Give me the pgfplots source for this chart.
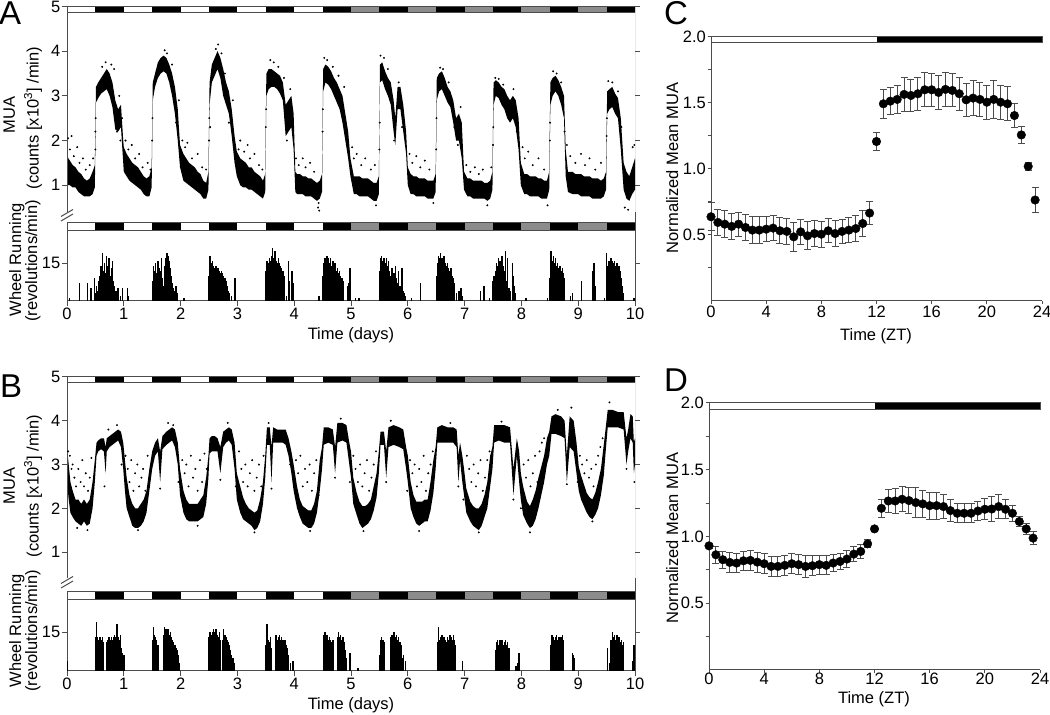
\documentclass[border=0pt]{standalone}
\usepackage{fontspec}
\setmainfont{Liberation Sans}
\usepackage{pgfplots}
\pgfplotsset{compat=1.18}
\usepackage{pgfplotstable}

\newcommand\fs{\fontsize{16.5}{19}\selectfont}
\newcommand\fl{\fontsize{33}{36}\selectfont}
\definecolor{ax}{gray}{0.3}
\definecolor{ldgray}{gray}{0.55}

% ---------------- data ----------------
\pgfplotstableread{
t lo hi
0.00 1.00 1.65
0.05 1.00 1.55
0.10 0.95 1.45
0.15 0.95 1.40
0.20 0.85 1.30
0.25 0.80 1.25
0.30 0.75 1.15
0.35 0.75 1.10
0.40 0.75 1.15
0.45 0.80 1.30
0.49 0.95 1.45
0.51 2.85 3.20
0.55 2.95 3.30
0.60 3.05 3.40
0.65 3.10 3.50
0.70 3.15 3.60
0.75 3.00 3.50
0.80 2.75 3.30
0.85 2.25 2.90
0.90 2.20 2.70
0.95 2.30 2.80
0.99 1.50 2.00
1.00 1.30 1.85
1.05 1.20 1.70
1.10 1.10 1.60
1.15 1.05 1.50
1.20 1.00 1.45
1.25 0.95 1.40
1.30 0.90 1.30
1.35 0.80 1.20
1.40 0.75 1.15
1.45 0.75 1.20
1.49 0.95 1.40
1.51 2.90 3.30
1.55 3.20 3.50
1.60 3.40 3.75
1.65 3.50 3.85
1.70 3.55 3.90
1.75 3.50 3.85
1.80 3.30 3.70
1.85 3.00 3.50
1.90 2.60 3.20
1.95 2.00 2.70
1.99 1.40 1.90
2.05 1.10 1.70
2.10 1.05 1.60
2.15 1.00 1.50
2.20 0.95 1.45
2.25 0.90 1.40
2.30 0.85 1.30
2.35 0.80 1.25
2.40 0.70 1.10
2.45 0.70 1.05
2.49 0.90 1.30
2.51 2.80 3.30
2.55 3.30 3.70
2.60 3.45 3.85
2.65 3.60 4.00
2.70 3.40 3.85
2.75 3.00 3.60
2.80 2.80 3.30
2.85 2.60 3.10
2.90 2.10 2.70
2.95 1.50 2.10
2.99 1.20 1.75
3.05 1.00 1.60
3.10 0.95 1.55
3.15 0.95 1.50
3.20 0.90 1.40
3.25 0.90 1.40
3.30 0.85 1.30
3.35 0.80 1.25
3.40 0.75 1.20
3.45 0.70 1.10
3.49 0.85 1.25
3.51 3.00 3.50
3.55 3.15 3.60
3.60 3.20 3.60
3.65 3.20 3.55
3.70 3.15 3.50
3.75 3.05 3.45
3.80 2.90 3.30
3.85 2.10 2.80
3.90 2.20 2.90
3.95 2.30 3.00
3.99 1.80 2.60
4.02 0.85 1.30
4.05 0.80 1.25
4.10 0.80 1.25
4.15 0.80 1.20
4.20 0.75 1.20
4.25 0.75 1.15
4.30 0.75 1.15
4.35 0.70 1.10
4.40 0.65 1.05
4.45 0.70 1.10
4.49 0.85 1.25
4.51 3.10 3.60
4.55 3.30 3.70
4.60 3.25 3.65
4.65 3.15 3.55
4.70 3.00 3.40
4.75 2.85 3.30
4.80 2.70 3.15
4.85 2.40 3.00
4.90 2.00 2.60
4.95 1.60 2.20
4.99 1.20 1.60
5.05 0.80 1.20
5.10 0.80 1.20
5.15 0.75 1.20
5.20 0.75 1.15
5.25 0.75 1.15
5.30 0.75 1.15
5.35 0.70 1.10
5.40 0.65 1.05
5.45 0.65 1.05
5.49 0.80 1.20
5.51 3.30 3.70
5.55 3.35 3.75
5.60 3.15 3.55
5.65 3.00 3.40
5.70 2.80 3.30
5.75 2.20 2.90
5.78 1.90 2.50
5.82 2.70 3.20
5.87 2.70 3.20
5.92 2.20 2.80
5.97 1.70 2.20
6.00 1.00 1.40
6.05 0.80 1.25
6.10 0.80 1.20
6.15 0.75 1.20
6.20 0.75 1.15
6.25 0.75 1.15
6.30 0.75 1.15
6.35 0.70 1.10
6.40 0.70 1.10
6.45 0.70 1.10
6.49 0.85 1.25
6.51 2.90 3.40
6.55 3.10 3.50
6.60 3.15 3.55
6.65 3.00 3.40
6.70 2.85 3.20
6.75 2.75 3.10
6.80 2.40 2.90
6.85 2.00 2.50
6.90 2.00 2.60
6.95 1.60 2.40
6.99 0.90 1.30
7.05 0.75 1.15
7.10 0.75 1.15
7.15 0.70 1.10
7.20 0.70 1.10
7.25 0.70 1.10
7.30 0.70 1.10
7.35 0.70 1.05
7.40 0.65 1.05
7.45 0.70 1.10
7.49 0.90 1.30
7.51 2.80 3.30
7.55 3.00 3.35
7.60 2.95 3.30
7.65 2.80 3.20
7.70 2.70 3.15
7.75 2.50 3.00
7.80 2.40 2.90
7.85 2.50 3.00
7.90 2.30 2.90
7.95 1.80 2.50
7.99 1.00 1.50
8.05 0.80 1.25
8.10 0.80 1.25
8.15 0.75 1.20
8.20 0.75 1.20
8.25 0.75 1.20
8.30 0.75 1.15
8.35 0.70 1.15
8.40 0.70 1.10
8.45 0.70 1.10
8.49 0.90 1.30
8.51 2.80 3.30
8.55 3.00 3.40
8.60 3.10 3.45
8.65 3.00 3.35
8.70 2.80 3.20
8.75 2.50 3.00
8.78 1.20 1.80
8.82 0.85 1.30
8.90 0.80 1.30
8.95 0.80 1.25
9.00 0.80 1.25
9.05 0.75 1.25
9.10 0.75 1.20
9.15 0.75 1.20
9.20 0.75 1.20
9.25 0.70 1.15
9.30 0.70 1.15
9.35 0.70 1.15
9.40 0.70 1.10
9.45 0.75 1.15
9.49 0.90 1.30
9.51 2.60 3.10
9.55 2.70 3.15
9.60 2.75 3.20
9.65 2.60 3.05
9.70 2.50 2.95
9.75 1.80 2.50
9.80 0.90 1.50
9.85 0.70 1.30
9.90 0.65 1.20
9.95 0.80 1.40
10.00 0.90 1.60
}\Amua

\pgfplotstableread{
t lo hi
0.00 2.60 3.40
0.03 2.20 3.00
0.06 1.90 2.60
0.10 1.80 2.40
0.15 1.70 2.20
0.20 1.65 2.20
0.25 1.60 2.10
0.30 1.70 2.20
0.35 1.60 2.10
0.40 1.65 2.20
0.45 2.00 2.60
0.49 2.60 3.10
0.52 3.20 3.50
0.55 3.30 3.55
0.60 3.35 3.60
0.65 3.30 3.60
0.68 2.80 3.40
0.70 3.30 3.60
0.75 3.40 3.65
0.80 3.45 3.70
0.85 3.50 3.75
0.90 3.55 3.80
0.95 3.40 3.75
0.99 2.90 3.50
1.02 2.40 3.10
1.05 2.00 2.70
1.10 1.80 2.30
1.15 1.60 2.10
1.20 1.55 2.00
1.25 1.55 2.00
1.30 1.60 2.10
1.35 1.70 2.20
1.40 1.90 2.40
1.45 2.40 2.90
1.50 2.90 3.30
1.55 3.20 3.50
1.60 3.30 3.60
1.64 2.60 3.30
1.68 3.35 3.65
1.75 3.45 3.75
1.80 3.50 3.80
1.85 3.55 3.85
1.90 3.40 3.80
1.95 3.00 3.50
1.99 2.30 2.90
2.05 1.90 2.40
2.10 1.75 2.20
2.15 1.70 2.10
2.20 1.70 2.10
2.25 1.70 2.10
2.30 1.70 2.10
2.35 1.75 2.20
2.40 1.80 2.30
2.45 2.10 2.70
2.49 2.70 3.20
2.51 3.25 3.60
2.55 3.30 3.65
2.60 3.30 3.65
2.65 3.30 3.60
2.70 2.80 3.40
2.75 3.40 3.75
2.80 3.50 3.80
2.85 3.55 3.85
2.90 3.45 3.80
2.95 2.90 3.50
2.99 2.20 2.80
3.05 1.90 2.50
3.10 1.75 2.25
3.15 1.70 2.10
3.20 1.65 2.00
3.25 1.60 1.95
3.30 1.50 1.90
3.35 1.55 1.95
3.40 1.70 2.20
3.45 2.10 2.60
3.49 2.70 3.20
3.52 3.45 3.85
3.57 3.45 3.85
3.60 2.60 3.40
3.63 3.50 3.85
3.70 3.50 3.80
3.75 3.50 3.80
3.80 3.50 3.80
3.85 3.45 3.80
3.90 3.20 3.60
3.95 2.80 3.30
3.99 2.40 3.00
4.05 2.00 2.50
4.10 1.80 2.20
4.15 1.65 2.05
4.20 1.60 2.00
4.25 1.55 1.95
4.30 1.55 1.95
4.35 1.65 2.10
4.40 1.90 2.40
4.45 2.40 3.10
4.49 2.90 3.40
4.52 3.45 3.85
4.60 3.50 3.85
4.68 3.45 3.80
4.72 2.80 3.40
4.76 3.50 3.95
4.85 3.55 3.95
4.92 3.50 3.90
4.97 3.00 3.50
5.00 2.70 3.30
5.04 2.10 2.70
5.10 1.85 2.35
5.15 1.65 2.15
5.20 1.55 2.05
5.25 1.60 2.05
5.30 1.65 2.10
5.35 1.75 2.20
5.40 1.95 2.50
5.45 2.25 2.80
5.49 2.80 3.30
5.52 3.45 3.75
5.58 3.45 3.75
5.62 2.70 3.30
5.66 3.40 3.85
5.75 3.45 3.90
5.85 3.40 3.85
5.92 3.35 3.80
5.97 2.90 3.40
6.00 2.60 3.20
6.05 2.00 2.60
6.10 1.80 2.30
6.15 1.65 2.15
6.20 1.60 2.15
6.25 1.65 2.15
6.30 1.70 2.20
6.35 1.70 2.20
6.40 1.95 2.60
6.45 2.35 3.10
6.49 2.90 3.40
6.52 3.50 3.85
6.60 3.50 3.90
6.70 3.50 3.85
6.80 3.50 3.85
6.86 3.40 3.80
6.89 2.60 3.20
6.92 3.10 3.50
6.96 2.60 3.20
6.99 2.30 2.90
7.03 1.90 2.45
7.10 1.70 2.15
7.15 1.60 2.05
7.20 1.55 2.00
7.25 1.50 2.00
7.30 1.60 2.10
7.35 1.80 2.30
7.40 2.00 2.60
7.45 2.50 3.20
7.49 2.90 3.40
7.52 3.50 3.90
7.60 3.55 3.90
7.70 3.50 3.90
7.80 3.50 3.85
7.86 2.30 2.90
7.92 3.20 3.60
7.96 2.60 3.30
7.99 2.20 2.80
8.03 1.85 2.50
8.10 1.65 2.15
8.15 1.55 2.05
8.20 1.60 2.20
8.25 1.75 2.40
8.30 2.00 2.70
8.35 2.30 2.95
8.40 2.60 3.20
8.45 3.00 3.60
8.49 3.20 3.75
8.53 3.70 4.10
8.60 3.70 4.15
8.70 3.65 4.10
8.76 3.60 4.00
8.80 2.60 3.20
8.85 3.40 4.10
8.92 3.30 4.00
8.97 2.80 3.50
9.01 2.40 2.95
9.05 2.20 2.75
9.10 2.05 2.55
9.15 1.90 2.35
9.20 1.80 2.25
9.25 1.75 2.20
9.30 1.85 2.35
9.35 2.00 2.60
9.40 2.30 2.90
9.45 2.75 3.45
9.49 3.40 3.90
9.52 3.85 4.25
9.60 3.85 4.25
9.70 3.85 4.20
9.80 3.80 4.20
9.85 3.00 3.60
9.88 3.30 3.80
9.92 3.60 4.15
9.96 3.50 4.10
9.98 2.80 3.50
10.00 3.00 3.60
}\Bmua

\pgfplotstableread{
t v
0.04 1
0.22 7
0.36 7
0.42 5
0.48 9
0.50 3
0.52 6
0.54 4
0.56 8
0.58 10
0.60 14
0.62 19
0.64 12
0.66 15
0.68 11
0.70 18
0.72 14
0.74 17
0.76 10
0.78 13
0.80 16
0.82 8
0.84 6
0.86 4
0.88 3
0.90 5
0.94 2
0.98 5
1.06 5
1.08 2
1.50 8
1.52 14
1.54 12
1.56 15
1.58 11
1.60 16
1.62 13
1.64 12
1.66 17
1.68 9
1.70 6
1.72 14
1.74 17
1.76 19
1.78 18
1.80 16
1.82 13
1.84 10
1.86 7
1.88 5
1.90 4
1.92 6
1.94 3
2.06 1
2.50 10
2.52 18
2.54 15
2.56 16
2.58 14
2.60 13
2.62 14
2.64 12
2.66 13
2.68 12
2.70 11
2.72 12
2.74 11
2.76 10
2.78 9
2.80 8
2.82 6
2.84 4
2.86 3
2.90 2
2.96 9
3.50 12
3.52 16
3.54 15
3.56 17
3.58 16
3.60 18
3.62 21
3.64 17
3.66 20
3.68 16
3.70 15
3.72 17
3.74 15
3.76 14
3.78 13
3.80 12
3.82 10
3.86 2
3.90 16
3.92 8
3.96 12
3.98 7
4.44 2
4.50 10
4.52 15
4.54 17
4.56 16
4.58 18
4.60 17
4.62 15
4.64 17
4.66 14
4.68 16
4.70 13
4.72 15
4.74 12
4.76 13
4.78 11
4.80 12
4.82 10
4.84 9
4.86 8
4.94 6
4.96 7
4.98 13
5.08 1
5.14 1
5.50 12
5.52 17
5.54 18
5.56 16
5.58 17
5.60 15
5.62 17
5.64 14
5.66 16
5.68 12
5.70 10
5.72 13
5.74 8
5.76 11
5.78 14
5.80 9
5.82 7
5.84 12
5.86 6
5.88 5
5.90 13
5.92 4
5.94 3
5.96 2
6.06 1
6.22 7
6.50 10
6.52 15
6.54 18
6.56 17
6.58 19
6.60 17
6.62 16
6.64 18
6.66 15
6.68 14
6.70 15
6.72 13
6.74 12
6.76 13
6.78 10
6.80 9
6.82 7
6.86 3
6.90 4
6.94 5
6.96 2
7.28 4
7.34 6
7.44 1
7.50 8
7.52 10
7.54 12
7.56 15
7.58 14
7.60 17
7.62 16
7.64 15
7.66 18
7.68 14
7.70 12
7.72 20
7.74 8
7.76 17
7.78 5
7.80 4
7.84 15
7.86 10
7.88 6
7.90 3
8.08 1
8.46 1
8.50 9
8.52 20
8.54 16
8.56 18
8.58 15
8.60 17
8.62 14
8.64 15
8.66 13
8.68 14
8.70 12
8.72 13
8.74 11
8.76 9
8.86 2
8.90 3
9.06 8
9.26 12
9.28 15
9.30 6
9.46 1
9.50 19
9.52 14
9.54 16
9.56 15
9.58 17
9.60 16
9.62 15
9.64 16
9.66 14
9.68 15
9.70 13
9.72 14
9.74 12
9.76 9
9.78 6
9.80 3
9.98 1
}\Awheel

\pgfplotstableread{
t v
0.00 4
0.50 13
0.52 19
0.54 13
0.56 12
0.58 13
0.60 12
0.62 13
0.64 11
0.70 11
0.72 12
0.74 13
0.76 12
0.78 13
0.80 12
0.82 13
0.84 14
0.86 13
0.88 18
0.90 13
0.92 12
0.94 14
0.96 9
0.98 7
1.00 6
1.50 12
1.52 17
1.54 14
1.56 13
1.58 12
1.60 10
1.70 14
1.72 17
1.74 16
1.76 15
1.78 16
1.80 14
1.82 15
1.84 13
1.86 12
1.88 11
1.90 10
1.92 9
1.94 8
1.96 6
1.98 3
2.50 13
2.52 15
2.54 14
2.56 15
2.58 16
2.60 15
2.62 16
2.64 14
2.66 13
2.68 15
2.70 12
2.74 12
2.76 16
2.78 14
2.80 13
2.82 12
2.84 11
2.86 10
2.88 8
2.90 6
2.92 5
2.94 3
3.50 10
3.52 18
3.54 12
3.56 11
3.58 13
3.60 9
3.68 14
3.70 12
3.72 13
3.74 14
3.76 12
3.78 13
3.80 12
3.82 11
3.84 12
3.86 10
3.88 9
3.90 6
3.94 3
3.98 4
4.52 14
4.54 15
4.56 13
4.58 14
4.60 12
4.62 13
4.64 12
4.66 11
4.68 12
4.76 13
4.78 15
4.80 13
4.82 14
4.84 12
4.86 13
4.88 11
4.90 8
4.92 5
4.98 7
5.12 1
5.50 6
5.52 12
5.54 13
5.56 12
5.58 11
5.70 13
5.72 14
5.74 12
5.76 15
5.78 13
5.80 14
5.82 12
5.84 13
5.86 11
5.88 10
5.90 5
5.92 6
5.96 4
6.52 11
6.54 17
6.56 12
6.58 13
6.60 14
6.62 12
6.64 13
6.66 12
6.68 11
6.70 13
6.72 12
6.74 14
6.76 13
6.78 12
6.80 14
6.82 12
6.84 10
6.96 4
7.54 8
7.56 11
7.58 12
7.60 10
7.62 12
7.64 11
7.66 12
7.68 10
7.70 11
7.72 12
7.74 10
7.76 11
7.78 9
7.90 2
7.92 2
7.94 3
7.96 7
8.52 10
8.54 14
8.56 13
8.58 12
8.60 13
8.62 14
8.64 12
8.66 13
8.68 12
8.70 13
8.72 14
8.74 12
8.90 7
8.92 6
8.94 5
9.52 9
9.56 3
9.58 12
9.60 15
9.62 13
9.64 14
9.66 12
9.68 14
9.70 12
9.72 13
9.74 11
9.76 12
9.78 10
9.80 11
9.96 4
9.98 10
}\Bwheel

\pgfplotstableread{
t m e
0 0.638 0.105
0.5 0.595 0.100
1 0.582 0.100
1.5 0.565 0.100
2 0.582 0.090
2.5 0.557 0.095
3 0.537 0.100
3.5 0.537 0.100
4 0.544 0.095
4.5 0.552 0.095
5 0.532 0.100
5.5 0.527 0.100
6 0.486 0.110
6.5 0.524 0.095
7 0.494 0.105
7.5 0.511 0.100
8 0.506 0.100
8.5 0.532 0.090
9 0.511 0.100
9.5 0.527 0.090
10 0.537 0.095
10.5 0.549 0.095
11 0.587 0.100
11.5 0.666 0.090
12 1.208 0.070
12.5 1.494 0.110
13 1.514 0.100
13.5 1.527 0.105
14 1.565 0.130
14.5 1.557 0.120
15 1.570 0.125
15.5 1.600 0.130
16 1.600 0.125
16.5 1.580 0.130
17 1.603 0.130
17.5 1.595 0.125
18 1.570 0.125
18.5 1.524 0.125
19 1.537 0.130
19.5 1.527 0.130
20 1.506 0.130
20.5 1.527 0.145
21 1.506 0.130
21.5 1.494 0.130
22 1.405 0.090
22.5 1.258 0.065
23 1.020 0.030
23.5 0.765 0.095
}\Cdata

\pgfplotstableread{
t m e
0 0.930 0.020
0.5 0.863 0.065
1 0.826 0.065
1.5 0.806 0.075
2 0.801 0.070
2.5 0.818 0.070
3 0.821 0.075
3.5 0.808 0.075
4 0.796 0.075
4.5 0.776 0.075
5 0.776 0.075
5.5 0.784 0.075
6 0.796 0.075
6.5 0.789 0.075
7 0.776 0.080
7.5 0.781 0.075
8 0.789 0.070
8.5 0.784 0.070
9 0.801 0.065
9.5 0.813 0.060
10 0.831 0.065
10.5 0.868 0.055
11 0.888 0.050
11.5 0.945 0.030
12 1.057 0.020
12.5 1.211 0.065
13 1.266 0.085
13.5 1.266 0.090
14 1.279 0.095
14.5 1.269 0.100
15 1.254 0.110
15.5 1.244 0.100
16 1.231 0.100
16.5 1.231 0.100
17 1.224 0.090
17.5 1.194 0.080
18 1.174 0.070
18.5 1.174 0.070
19 1.174 0.070
19.5 1.191 0.070
20 1.204 0.080
20.5 1.206 0.090
21 1.224 0.090
21.5 1.204 0.070
22 1.174 0.060
22.5 1.112 0.040
23 1.057 0.040
23.5 0.988 0.050
}\Ddata

% ---------------- helpers ----------------
\newcommand{\ldbar}[2]{%
  \fill[white] (axis cs:0,#1) rectangle (axis cs:10,#2);
  \fill[black] (axis cs:0.5,#1) rectangle (axis cs:1,#2);
  \fill[black] (axis cs:1.5,#1) rectangle (axis cs:2,#2);
  \fill[black] (axis cs:2.5,#1) rectangle (axis cs:3,#2);
  \fill[black] (axis cs:3.5,#1) rectangle (axis cs:4,#2);
  \fill[black] (axis cs:4.5,#1) rectangle (axis cs:5,#2);
  \fill[black] (axis cs:5.5,#1) rectangle (axis cs:6,#2);
  \fill[black] (axis cs:6.5,#1) rectangle (axis cs:7,#2);
  \fill[black] (axis cs:7.5,#1) rectangle (axis cs:8,#2);
  \fill[black] (axis cs:8.5,#1) rectangle (axis cs:9,#2);
  \fill[black] (axis cs:9.5,#1) rectangle (axis cs:10,#2);
  \fill[ldgray] (axis cs:5,#1) rectangle (axis cs:5.5,#2);
  \fill[ldgray] (axis cs:6,#1) rectangle (axis cs:6.5,#2);
  \fill[ldgray] (axis cs:7,#1) rectangle (axis cs:7.5,#2);
  \fill[ldgray] (axis cs:8,#1) rectangle (axis cs:8.5,#2);
  \fill[ldgray] (axis cs:9,#1) rectangle (axis cs:9.5,#2);
  \draw[ax, line width=1pt] (axis cs:0,#1) rectangle (axis cs:10,#2);
}

\pgfplotsset{
  base/.style={scale only axis, anchor=south west,
    axis line style={-, ax, line width=1pt},
    every tick/.style={ax, line width=1pt},
    tick align=outside, major tick length=5pt,
    tick label style={font=\fs, inner sep=1.5pt},
    label style={font=\fs},
    /pgf/number format/assume math mode=true},
  muaax/.style={base, width=568pt, xmin=0, xmax=10, ymin=0.4, ymax=5,
    axis line style={draw=none}, xtick=\empty,
    ytick={1,2,3,4,5}, yticklabels={1,2,3,4,5}, yticklabel pos=left},
  wheelax/.style={base, width=568pt, xmin=0, xmax=10, ymin=0,
    xtick={0,1,...,10}, xticklabels={0,1,2,3,4,5,6,7,8,9,10}, xtick pos=left,
    ytick={15}, yticklabels={15}, yticklabel pos=left},
  meanax/.style={base, width=331pt, xmin=0, xmax=24, ymin=0, ymax=2,
    major tick length=3.5pt,
    axis x line*=bottom, axis y line*=left, clip=false,
    xtick={0,4,...,24}, xticklabels={0,4,8,12,16,20,24},
    ytick={0.25,0.5,0.75,1,1.25,1.5,1.75,2},
    yticklabels={,0.5,,1.0,,1.5,,2.0}},
  dots/.style={only marks, mark=*, mark size=0.75pt, black},
  errpts/.style={only marks, mark=*, mark size=4.3pt, black,
    error bars/.cd, y dir=both, y explicit,
    error bar style={ax, line width=1pt},
    error mark options={rotate=90, ax, line width=1pt, mark size=3.5pt}},
}

\begin{document}
\begin{tikzpicture}

% ================= Panel A =================
\begin{axis}[muaax, at={(67pt,503pt)}, height=205.5pt]
  \addplot[draw=none, stack plots=y, forget plot] table[x=t,y=lo] {\Amua};
  \addplot[draw=none, fill=black, stack plots=y, forget plot] table[x=t, y expr=\thisrow{hi}-\thisrow{lo}] {\Amua} \closedcycle;
  \addplot[dots] coordinates {
   (0.02,2.05) (0.05,1.8) (0.08,2.1) (0.12,1.65) (0.18,1.85) (0.22,1.5) (0.28,1.6) (0.33,1.35) (0.40,1.45) (0.46,1.6)
   (0.50,2.2) (0.50,1.8) (0.505,2.5) (0.62,3.65) (0.68,3.75) (0.72,3.3) (0.78,3.7) (0.83,3.6) (0.88,2.2) (0.92,3.0) (0.94,2.0) (0.97,2.5)
   (1.03,2.0) (1.08,1.8) (1.14,1.9) (1.2,1.6) (1.27,1.7) (1.33,1.4) (1.42,1.5) (1.47,1.35) (1.50,2.0) (1.505,2.5)
   (1.72,4.02) (1.76,3.95) (1.85,3.7) (1.92,2.4) (1.97,2.9)
   (2.03,2.0) (2.08,1.85) (2.12,1.95) (2.2,1.6) (2.3,1.7) (2.38,1.4) (2.45,1.35) (2.50,2.0) (2.505,2.5) (2.52,2.3)
   (2.66,4.15) (2.62,4.05) (2.72,3.95) (2.78,3.5) (2.85,2.4) (2.92,2.9)
   (3.02,1.8) (3.05,2.0) (3.12,1.75) (3.18,1.9) (3.22,1.6) (3.3,1.7) (3.38,1.45) (3.44,1.35) (3.50,2.3) (3.505,2.7)
   (3.58,3.8) (3.64,3.75) (3.72,3.65) (3.82,3.4) (3.87,2.0) (3.93,3.15)
   (4.03,1.6) (4.08,1.45) (4.15,1.6) (4.2,1.4) (4.28,1.5) (4.35,1.3) (4.42,0.5) (4.43,0.6) (4.44,0.43)
   (4.5,2.2) (4.505,2.7) (4.53,3.85) (4.58,3.8) (4.68,3.65) (4.78,3.45) (4.88,3.2) (4.93,2.2)
   (5.02,1.85) (5.05,1.6) (5.1,1.7) (5.18,1.45) (5.25,1.6) (5.35,1.35) (5.44,0.55) (5.42,1.45) (5.5,1.8) (5.505,2.4)
   (5.52,3.9) (5.58,3.85) (5.65,3.6) (5.76,2.0) (5.84,3.3) (5.9,2.3)
   (6.03,1.7) (6.08,1.5) (6.15,1.65) (6.22,1.4) (6.3,1.55) (6.38,1.35) (6.45,0.6) (6.5,1.8) (6.505,2.5)
   (6.57,3.63) (6.62,3.6) (6.72,3.3) (6.82,2.3) (6.88,1.9) (6.93,2.75)
   (7.03,1.45) (7.1,1.3) (7.18,1.4) (7.25,1.25) (7.32,1.35) (7.4,0.55) (7.47,1.4) (7.50,1.9) (7.505,2.3)
   (7.54,3.4) (7.6,3.38) (7.68,3.25) (7.78,2.5) (7.86,3.15) (7.92,2.2)
   (8.02,1.85) (8.06,1.6) (8.12,1.75) (8.2,1.45) (8.3,1.6) (8.4,1.35) (8.46,0.55) (8.5,2.0) (8.505,2.4)
   (8.56,3.55) (8.62,3.5) (8.7,3.3) (8.76,2.2) (8.8,1.9)
   (8.86,1.65) (8.95,1.5) (9.05,1.7) (9.12,1.45) (9.2,1.6) (9.3,1.35) (9.4,1.5) (9.5,2.1) (9.505,2.5)
   (9.53,3.33) (9.6,3.3) (9.7,3.1) (9.76,2.3) (9.82,0.5) (9.88,0.45) (9.96,1.85) (9.99,1.9)
  };
  \ldbar{4.865}{5}
  \draw[ax, line width=1pt] (rel axis cs:0,0) -- (rel axis cs:0,1) -- (rel axis cs:1,1) -- (rel axis cs:1,0);
\end{axis}

\begin{axis}[wheelax, at={(67pt,414pt)}, height=78pt, ymax=31]
  \addplot[ycomb, black, line width=1.4pt] table[x=t,y=v] {\Awheel};
  \ldbar{28.2}{31}
\end{axis}

\draw[ax, line width=1pt] (635pt,503pt) -- (635pt,492pt);
\draw[ax, line width=1pt] (61pt,494pt) -- (73pt,501pt);
\draw[ax, line width=1pt] (61pt,498.5pt) -- (73pt,505.5pt);

\node[font=\fl, anchor=base west, inner sep=0] at (-1pt,690pt) {A};
\node[font=\fs, rotate=90, anchor=base, inner sep=0] at (15pt,600pt) {MUA};
\node[font=\fs, rotate=90, anchor=base, inner sep=0] at (38.5pt,597pt) {(counts [x10\textsuperscript{3}] /min)};
\node[font=\fs, rotate=90, anchor=base, inner sep=0] at (21pt,455pt) {Wheel Running};
\node[font=\fs, rotate=90, anchor=base, inner sep=0] at (37pt,454pt) {(revolutions/min)};
\node[font=\fs, anchor=base, inner sep=0] at (351pt,375pt) {Time (days)};

% ================= Panel B =================
\begin{axis}[muaax, at={(67pt,136.7pt)}, height=201.3pt]
  \addplot[draw=none, stack plots=y, forget plot] table[x=t,y=lo] {\Bmua};
  \addplot[draw=none, fill=black, stack plots=y, forget plot] table[x=t, y expr=\thisrow{hi}-\thisrow{lo}] {\Bmua} \closedcycle;
  \addplot[dots] coordinates {
   (0.02,3.3) (0.05,3.2) (0.08,2.9) (0.1,3.0) (0.13,2.7) (0.16,2.5) (0.2,2.9) (0.24,2.6) (0.27,3.1) (0.3,2.5) (0.33,2.8) (0.37,2.4) (0.4,2.7) (0.43,3.15) (0.18,1.55) (0.36,1.5) (0.66,2.5) (0.73,3.8) (0.88,3.9) (0.96,3.0)
   (1.03,3.2) (1.07,2.9) (1.1,2.6) (1.13,3.1) (1.17,2.4) (1.2,2.8) (1.24,3.0) (1.27,2.5) (1.31,2.7) (1.34,2.9) (1.38,2.4) (1.42,3.2) (1.25,1.5) (1.64,2.45) (1.78,3.95) (1.87,3.9) (1.96,2.6)
   (2.03,3.1) (2.07,2.8) (2.1,3.0) (2.14,2.5) (2.18,3.2) (2.22,2.7) (2.26,2.9) (2.3,2.4) (2.34,3.1) (2.38,2.6) (2.42,3.25) (2.46,2.9) (2.3,1.6) (2.7,2.65) (2.83,3.95) (2.97,2.5)
   (3.03,3.3) (3.07,2.9) (3.1,2.6) (3.14,3.0) (3.18,2.5) (3.22,2.8) (3.26,3.1) (3.3,2.4) (3.34,2.7) (3.38,3.0) (3.42,2.5) (3.46,3.2) (3.3,1.45) (3.6,2.45) (3.55,3.95) (3.93,3.0)
   (4.03,3.1) (4.07,2.8) (4.11,3.2) (4.15,2.5) (4.19,2.9) (4.23,2.6) (4.27,3.0) (4.31,2.4) (4.35,2.8) (4.39,3.1) (4.43,2.3) (4.28,1.48) (4.72,2.7) (4.82,4.05) (4.98,2.6)
   (5.04,3.2) (5.08,2.9) (5.12,2.6) (5.16,3.0) (5.2,2.5) (5.24,2.8) (5.28,3.1) (5.32,2.4) (5.36,2.7) (5.4,3.0) (5.44,3.3) (5.22,1.48) (5.62,2.6) (5.7,4.0) (5.99,2.4)
   (6.04,3.1) (6.08,2.8) (6.12,3.0) (6.16,2.5) (6.2,2.9) (6.24,2.6) (6.28,3.2) (6.32,2.4) (6.36,2.8) (6.4,3.0) (6.44,3.3) (6.2,1.48) (6.89,2.5) (6.75,3.95) (6.98,2.2)
   (7.04,3.2) (7.08,2.9) (7.12,2.6) (7.16,3.0) (7.2,2.5) (7.24,2.8) (7.28,3.1) (7.32,2.4) (7.36,2.7) (7.4,3.1) (7.44,3.3) (7.25,1.45) (7.86,2.2) (7.65,3.98) (7.99,2.0)
   (8.04,3.0) (8.08,2.7) (8.12,3.1) (8.16,2.5) (8.2,2.8) (8.24,3.2) (8.28,2.6) (8.32,3.3) (8.36,3.5) (8.4,3.6) (8.15,1.45) (8.8,2.55) (8.64,4.25) (8.88,4.3) (8.99,2.6)
   (9.03,3.2) (9.07,3.0) (9.11,2.8) (9.15,3.1) (9.19,2.7) (9.23,2.9) (9.27,2.5) (9.31,3.0) (9.35,3.2) (9.39,3.4) (9.43,3.6) (9.25,1.7) (9.55,4.42) (9.85,2.9) (9.99,2.6)
  };
  \ldbar{4.865}{5}
  \draw[ax, line width=1pt] (rel axis cs:0,0) -- (rel axis cs:0,1) -- (rel axis cs:1,1) -- (rel axis cs:1,0);
\end{axis}

\begin{axis}[wheelax, at={(67pt,44pt)}, height=79pt, ymax=30.4]
  \addplot[ycomb, black, line width=1.4pt] table[x=t,y=v] {\Bwheel};
  \ldbar{27.7}{30.4}
\end{axis}

\draw[ax, line width=1pt] (635pt,136.7pt) -- (635pt,123pt);
\draw[ax, line width=1pt] (61pt,127pt) -- (73pt,134pt);
\draw[ax, line width=1pt] (61pt,131.5pt) -- (73pt,138.5pt);

\node[font=\fl, anchor=base west, inner sep=0] at (0pt,317pt) {B};
\node[font=\fs, rotate=90, anchor=base, inner sep=0] at (15pt,229pt) {MUA};
\node[font=\fs, rotate=90, anchor=base, inner sep=0] at (38.5pt,229pt) {(counts [x10\textsuperscript{3}] /min)};
\node[font=\fs, rotate=90, anchor=base, inner sep=0] at (21pt,84pt) {Wheel Running};
\node[font=\fs, rotate=90, anchor=base, inner sep=0] at (37pt,84pt) {(revolutions/min)};
\node[font=\fs, anchor=base, inner sep=0] at (351pt,5pt) {Time (days)};

% ================= Panel C =================
\begin{axis}[meanax, at={(711pt,414pt)}, height=264pt]
  \fill[white] (axis cs:0,1.955) rectangle (axis cs:12,2);
  \fill[black] (axis cs:12,1.955) rectangle (axis cs:24,2);
  \draw[ax, line width=1pt] (axis cs:0,1.955) rectangle (axis cs:24,2);
  \addplot[errpts] table[x=t, y=m, y error=e] {\Cdata};
\end{axis}
\node[font=\fl, anchor=base west, inner sep=0] at (664pt,690pt) {C};
\node[font=\fs, rotate=90, anchor=base, inner sep=0] at (678pt,547pt) {Normalized Mean MUA};
\node[font=\fs, anchor=base, inner sep=0] at (876pt,374pt) {Time (ZT)};

% ================= Panel D =================
\begin{axis}[meanax, at={(709pt,45pt)}, height=267pt, xticklabel style={yshift=2.5pt}]
  \fill[white] (axis cs:0,1.95) rectangle (axis cs:12,2);
  \fill[black] (axis cs:12,1.95) rectangle (axis cs:24,2);
  \draw[ax, line width=1pt] (axis cs:0,1.95) rectangle (axis cs:24,2);
  \addplot[errpts] table[x=t, y=m, y error=e] {\Ddata};
\end{axis}
\node[font=\fl, anchor=base west, inner sep=0] at (664pt,323pt) {D};
\node[font=\fs, rotate=90, anchor=base, inner sep=0] at (678pt,177pt) {Normalized Mean MUA};
\node[font=\fs, anchor=base, inner sep=0] at (874pt,11pt) {Time (ZT)};

\pgfresetboundingbox
\path[use as bounding box] (0pt,0pt) rectangle (1050pt,715pt);
\end{tikzpicture}
\end{document}
